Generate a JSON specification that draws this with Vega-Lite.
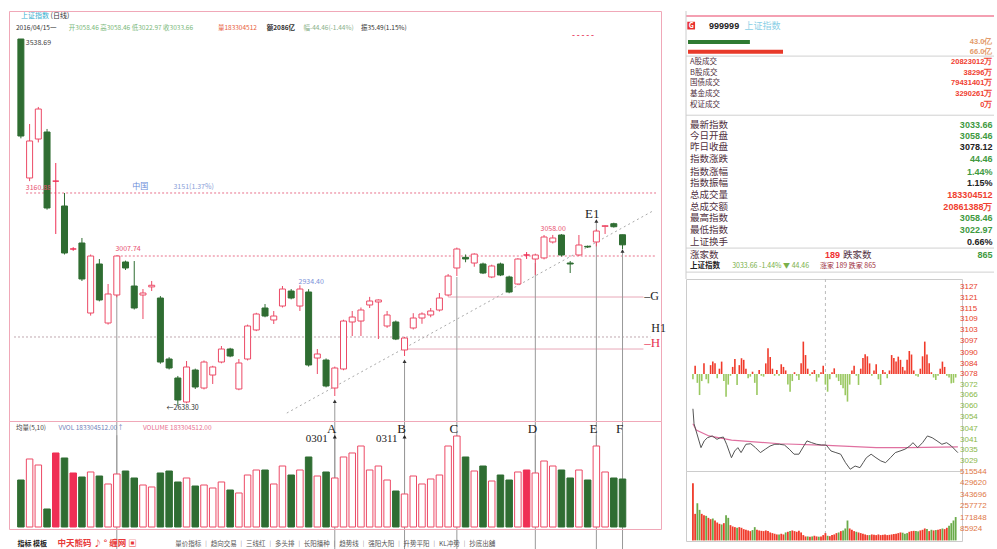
{
"$schema":"https://vega.github.io/schema/vega-lite/v6.json",
"background":"#ffffff",
"padding":{"left":8,"top":10,"right":0,"bottom":0},
"config":{"font":"Noto Sans CJK SC","view":{"stroke":null},"text":{"baseline":"middle"}},
"datasets":{
"k":[
{"i":1,"o":3538.69,"h":3538.69,"l":3295,"c":3300.7,"vol":179.5},
{"i":2,"o":3197.7,"h":3330.2,"l":3190,"c":3288.5,"vol":259.8},
{"i":3,"o":3293.3,"h":3372,"l":3285,"c":3366.9,"vol":236.8},
{"i":4,"o":3310.5,"h":3318,"l":3120,"c":3124.1,"vol":68.8},
{"i":5,"o":3190,"h":3234.5,"l":3060.3,"c":3190,"vol":282.7},
{"i":6,"o":3129.0,"h":3160.9,"l":3010,"c":3013.7,"vol":263.6},
{"i":7,"o":3023.5,"h":3028,"l":3019,"c":3023.5,"vol":206.3},
{"i":8,"o":3038.2,"h":3050.5,"l":2945,"c":2949.9,"vol":191.0},
{"i":9,"o":2866.4,"h":3010,"l":2860,"c":3006.3,"vol":210.1},
{"i":10,"o":2986.7,"h":2998.9,"l":2895,"c":2898.4,"vol":194.8},
{"i":11,"o":2841.9,"h":2937.6,"l":2838,"c":2913.1,"vol":164.3},
{"i":12,"o":2910.6,"h":3007.74,"l":2905,"c":3006.3,"vol":202.5},
{"i":13,"o":2991.6,"h":2995,"l":2972,"c":2976.9,"vol":213.9},
{"i":14,"o":2932.7,"h":2994.0,"l":2875,"c":2878.7,"vol":187.2},
{"i":15,"o":2910.6,"h":2925.3,"l":2851.7,"c":2915.5,"vol":160.4},
{"i":16,"o":2930.5,"h":2945.0,"l":2920.4,"c":2934.5,"vol":152.8},
{"i":17,"o":2903.2,"h":2908,"l":2742,"c":2746.2,"vol":206.3},
{"i":18,"o":2753.6,"h":2758,"l":2728,"c":2731.5,"vol":213.9},
{"i":19,"o":2707.0,"h":2712,"l":2638.3,"c":2653.0,"vol":171.9},
{"i":20,"o":2648.1,"h":2748.7,"l":2645,"c":2734.0,"vol":187.2},
{"i":21,"o":2726.6,"h":2730,"l":2680,"c":2684.9,"vol":156.6},
{"i":22,"o":2682.4,"h":2750,"l":2679,"c":2746.2,"vol":160.4},
{"i":23,"o":2714.3,"h":2737,"l":2692.3,"c":2734.0,"vol":149.0},
{"i":24,"o":2746.2,"h":2785.5,"l":2743,"c":2778.1,"vol":171.9},
{"i":25,"o":2778.1,"h":2781,"l":2758,"c":2760.9,"vol":141.3},
{"i":26,"o":2680.0,"h":2753.6,"l":2677,"c":2743.8,"vol":129.9},
{"i":27,"o":2753.6,"h":2838,"l":2750,"c":2834.6,"vol":198.6},
{"i":28,"o":2824.8,"h":2867,"l":2822,"c":2864.0,"vol":217.7},
{"i":29,"o":2878.7,"h":2888.5,"l":2856,"c":2859.1,"vol":217.7},
{"i":30,"o":2849.3,"h":2871.4,"l":2839.5,"c":2859.1,"vol":164.3},
{"i":31,"o":2883.6,"h":2932.7,"l":2880,"c":2925.3,"vol":233.0},
{"i":32,"o":2920.4,"h":2925.3,"l":2900,"c":2903.2,"vol":198.6},
{"i":33,"o":2883.6,"h":2934.4,"l":2871.4,"c":2925.3,"vol":217.7},
{"i":34,"o":2918.0,"h":2925,"l":2735,"c":2738.9,"vol":267.4},
{"i":35,"o":2756.0,"h":2778.1,"l":2716.8,"c":2765.9,"vol":194.8},
{"i":36,"o":2751.1,"h":2755,"l":2684,"c":2687.4,"vol":210.1},
{"i":37,"o":2682.4,"h":2735,"l":2662.8,"c":2731.5,"vol":187.2},
{"i":38,"o":2729.1,"h":2850,"l":2726,"c":2846.8,"vol":267.4},
{"i":39,"o":2844.4,"h":2871.4,"l":2810,"c":2856.6,"vol":282.7},
{"i":40,"o":2846.8,"h":2880,"l":2810,"c":2873.8,"vol":309.4},
{"i":41,"o":2886.1,"h":2906,"l":2878.7,"c":2895.9,"vol":217.7},
{"i":42,"o":2893.5,"h":2900,"l":2802.6,"c":2898.4,"vol":233.0},
{"i":43,"o":2834.6,"h":2871.4,"l":2830,"c":2861.6,"vol":179.5},
{"i":44,"o":2844.4,"h":2848,"l":2800,"c":2802.6,"vol":137.5},
{"i":45,"o":2775.7,"h":2808,"l":2760.9,"c":2805.1,"vol":126.1},
{"i":46,"o":2829.7,"h":2866,"l":2826,"c":2854.2,"vol":194.8},
{"i":47,"o":2854.2,"h":2868,"l":2840,"c":2864.0,"vol":164.3},
{"i":48,"o":2861.6,"h":2878.7,"l":2856,"c":2871.4,"vol":183.4},
{"i":49,"o":2873.8,"h":2915.5,"l":2870,"c":2903.2,"vol":198.6},
{"i":50,"o":2910.6,"h":2962,"l":2907,"c":2957.2,"vol":309.4},
{"i":51,"o":2976.9,"h":3027,"l":2957.2,"c":3023.5,"vol":347.6},
{"i":52,"o":3003,"h":3010,"l":2991,"c":2999,"vol":267.4},
{"i":53,"o":2989.1,"h":3013,"l":2980,"c":3011,"vol":213.9},
{"i":54,"o":2986.7,"h":2990,"l":2962,"c":2964.6,"vol":233.0},
{"i":55,"o":2954.8,"h":2985,"l":2952,"c":2981.8,"vol":175.7},
{"i":56,"o":2986.7,"h":2990,"l":2957,"c":2959.7,"vol":198.6},
{"i":57,"o":2954.8,"h":2958,"l":2915,"c":2918.0,"vol":179.5},
{"i":58,"o":2937.6,"h":3001,"l":2935,"c":2998.9,"vol":210.1},
{"i":59,"o":3008.8,"h":3016,"l":2999,"c":3008.8,"vol":217.7},
{"i":60,"o":2998.9,"h":3012,"l":2960,"c":3008.8,"vol":206.3},
{"i":61,"o":3001.5,"h":3057.8,"l":2998,"c":3052.9,"vol":252.1},
{"i":62,"o":3040.7,"h":3058.0,"l":3037,"c":3050.5,"vol":233.0},
{"i":63,"o":3057.8,"h":3060,"l":3005,"c":3008.8,"vol":217.7},
{"i":64,"o":2989.1,"h":2994.0,"l":2964.6,"c":2986.7,"vol":187.2},
{"i":65,"o":3008.8,"h":3057.8,"l":3006,"c":3033.3,"vol":217.7},
{"i":66,"o":3030.0,"h":3032,"l":3026,"c":3028.4,"vol":179.5},
{"i":67,"o":3040.7,"h":3072,"l":3030,"c":3067.6,"vol":309.4},
{"i":68,"o":3079.0,"h":3082,"l":3060.3,"c":3080.5,"vol":210.1},
{"i":69,"o":3085.5,"h":3088,"l":3076,"c":3078.12,"vol":187.2},
{"i":70,"o":3058.46,"h":3058.46,"l":3022.97,"c":3033.66,"vol":183.3}
],
"mk":[
{"n":"","i":12,"p":3006.3,"dt":""},
{"n":"A","i":37,"p":2650,"dt":"0301"},
{"n":"B","i":45,"p":2748,"dt":"0311"},
{"n":"C","i":51,"p":2955,"dt":""},
{"n":"D","i":60,"p":2989,"dt":""},
{"n":"E","i":67,"p":3092,"dt":""},
{"n":"F","i":70,"p":3018.6,"dt":""}
],
"is":[
{"m":0,"s":3075.12,"b":3078.12},{"m":2,"s":3082.82,"b":3078.12},{"m":4,"s":3073.12,"b":3078.12},{"m":6,"s":3066.22,"b":3078.12},{"m":8,"s":3074.12,"b":3078.12},{"m":10,"s":3084.12,"b":3078.12},{"m":12,"s":3075.12,"b":3078.12},{"m":14,"s":3072.82,"b":3078.12},{"m":16,"s":3083.12,"b":3078.12},{"m":18,"s":3085.12,"b":3078.12},
{"m":20,"s":3084.12,"b":3078.12},{"m":22,"s":3075.72,"b":3078.12},{"m":24,"s":3081.12,"b":3078.12},{"m":26,"s":3085.12,"b":3078.12},{"m":28,"s":3074.12,"b":3078.12},{"m":30,"s":3065.32,"b":3078.12},{"m":32,"s":3072.12,"b":3078.12},{"m":34,"s":3077.12,"b":3078.12},{"m":36,"s":3082.12,"b":3078.12},{"m":38,"s":3086.62,"b":3078.12},
{"m":40,"s":3071.92,"b":3078.12},{"m":42,"s":3083.12,"b":3078.12},{"m":44,"s":3087.02,"b":3078.12},{"m":46,"s":3086.12,"b":3078.12},{"m":48,"s":3081.12,"b":3078.12},{"m":50,"s":3075.72,"b":3078.12},{"m":52,"s":3076.62,"b":3078.12},{"m":54,"s":3079.42,"b":3078.12},{"m":56,"s":3073.12,"b":3078.12},{"m":58,"s":3066.22,"b":3078.12},
{"m":60,"s":3080.42,"b":3078.12},{"m":62,"s":3077.12,"b":3078.12},{"m":64,"s":3076.62,"b":3078.12},{"m":66,"s":3084.12,"b":3078.12},{"m":68,"s":3092.62,"b":3078.12},{"m":70,"s":3087.72,"b":3078.12},{"m":72,"s":3081.12,"b":3078.12},{"m":74,"s":3077.12,"b":3078.12},{"m":76,"s":3080.42,"b":3078.12},{"m":78,"s":3077.12,"b":3078.12},
{"m":80,"s":3083.62,"b":3078.12},{"m":82,"s":3082.12,"b":3078.12},{"m":84,"s":3080.12,"b":3078.12},{"m":86,"s":3072.12,"b":3078.12},{"m":88,"s":3068.12,"b":3078.12},{"m":90,"s":3074.12,"b":3078.12},{"m":92,"s":3079.12,"b":3078.12},{"m":94,"s":3077.12,"b":3078.12},{"m":96,"s":3074.72,"b":3078.12},{"m":98,"s":3084.12,"b":3078.12},
{"m":100,"s":3096.42,"b":3078.12},{"m":102,"s":3088.82,"b":3078.12},{"m":104,"s":3081.12,"b":3078.12},{"m":106,"s":3077.12,"b":3078.12},{"m":108,"s":3079.12,"b":3078.12},{"m":110,"s":3080.42,"b":3078.12},{"m":112,"s":3073.82,"b":3078.12},{"m":114,"s":3076.12,"b":3078.12},{"m":116,"s":3079.12,"b":3078.12},{"m":118,"s":3082.82,"b":3078.12},
{"m":120,"s":3072.12,"b":3078.12},{"m":122,"s":3068.12,"b":3078.12},{"m":124,"s":3075.12,"b":3078.12},{"m":126,"s":3079.12,"b":3078.12},{"m":128,"s":3081.32,"b":3078.12},{"m":130,"s":3076.12,"b":3078.12},{"m":132,"s":3074.12,"b":3078.12},{"m":134,"s":3071.92,"b":3078.12},{"m":136,"s":3070.12,"b":3078.12},{"m":138,"s":3066.12,"b":3078.12},
{"m":140,"s":3062.52,"b":3078.12},{"m":142,"s":3072.12,"b":3078.12},{"m":144,"s":3080.12,"b":3078.12},{"m":146,"s":3082.82,"b":3078.12},{"m":148,"s":3077.12,"b":3078.12},{"m":150,"s":3071.92,"b":3078.12},{"m":152,"s":3081.12,"b":3078.12},{"m":154,"s":3087.12,"b":3078.12},{"m":156,"s":3089.22,"b":3078.12},{"m":158,"s":3088.12,"b":3078.12},
{"m":160,"s":3084.12,"b":3078.12},{"m":162,"s":3077.12,"b":3078.12},{"m":164,"s":3080.12,"b":3078.12},{"m":166,"s":3083.62,"b":3078.12},{"m":168,"s":3075.12,"b":3078.12},{"m":170,"s":3071.92,"b":3078.12},{"m":172,"s":3080.42,"b":3078.12},{"m":174,"s":3079.12,"b":3078.12},{"m":176,"s":3075.72,"b":3078.12},{"m":178,"s":3080.12,"b":3078.12},
{"m":180,"s":3088.82,"b":3078.12},{"m":182,"s":3087.12,"b":3078.12},{"m":184,"s":3085.12,"b":3078.12},{"m":186,"s":3087.92,"b":3078.12},{"m":188,"s":3086.12,"b":3078.12},{"m":190,"s":3082.12,"b":3078.12},{"m":192,"s":3080.12,"b":3078.12},{"m":194,"s":3086.12,"b":3078.12},{"m":196,"s":3091.12,"b":3078.12},{"m":198,"s":3089.12,"b":3078.12},
{"m":200,"s":3080.12,"b":3078.12},{"m":202,"s":3077.12,"b":3078.12},{"m":204,"s":3076.62,"b":3078.12},{"m":206,"s":3081.12,"b":3078.12},{"m":208,"s":3088.12,"b":3078.12},{"m":210,"s":3096.42,"b":3078.12},{"m":212,"s":3089.12,"b":3078.12},{"m":214,"s":3084.12,"b":3078.12},{"m":216,"s":3079.12,"b":3078.12},{"m":218,"s":3076.12,"b":3078.12},
{"m":220,"s":3074.72,"b":3078.12},{"m":222,"s":3077.12,"b":3078.12},{"m":224,"s":3081.12,"b":3078.12},{"m":226,"s":3085.12,"b":3078.12},{"m":228,"s":3082.12,"b":3078.12},{"m":230,"s":3077.12,"b":3078.12},{"m":232,"s":3076.12,"b":3078.12},{"m":234,"s":3072.82,"b":3078.12},{"m":236,"s":3073.12,"b":3078.12},{"m":238,"s":3076.12,"b":3078.12}
],
"iv":[
{"m":0,"v":430000,"dir":"u"},{"m":2,"v":200000,"dir":"u"},{"m":4,"v":280000,"dir":"d"},{"m":6,"v":230000,"dir":"d"},{"m":8,"v":200000,"dir":"u"},{"m":10,"v":190000,"dir":"u"},{"m":12,"v":185000,"dir":"d"},{"m":14,"v":170000,"dir":"u"},{"m":16,"v":160000,"dir":"u"},{"m":18,"v":165000,"dir":"d"},
{"m":20,"v":150000,"dir":"u"},{"m":22,"v":135000,"dir":"u"},{"m":24,"v":125000,"dir":"u"},{"m":26,"v":120000,"dir":"d"},{"m":28,"v":130000,"dir":"u"},{"m":30,"v":190000,"dir":"d"},{"m":32,"v":170000,"dir":"d"},{"m":34,"v":115000,"dir":"u"},{"m":36,"v":105000,"dir":"u"},{"m":38,"v":100000,"dir":"u"},
{"m":40,"v":95000,"dir":"d"},{"m":42,"v":100000,"dir":"u"},{"m":44,"v":95000,"dir":"u"},{"m":46,"v":85000,"dir":"u"},{"m":48,"v":80000,"dir":"u"},{"m":50,"v":75000,"dir":"u"},{"m":52,"v":70000,"dir":"u"},{"m":54,"v":78000,"dir":"d"},{"m":56,"v":100000,"dir":"d"},{"m":58,"v":80000,"dir":"u"},
{"m":60,"v":75000,"dir":"u"},{"m":62,"v":72000,"dir":"u"},{"m":64,"v":70000,"dir":"u"},{"m":66,"v":75000,"dir":"u"},{"m":68,"v":70000,"dir":"u"},{"m":70,"v":60000,"dir":"u"},{"m":72,"v":55000,"dir":"u"},{"m":74,"v":50000,"dir":"u"},{"m":76,"v":45000,"dir":"u"},{"m":78,"v":45000,"dir":"d"},
{"m":80,"v":50000,"dir":"u"},{"m":82,"v":45000,"dir":"u"},{"m":84,"v":60000,"dir":"d"},{"m":86,"v":65000,"dir":"u"},{"m":88,"v":70000,"dir":"d"},{"m":90,"v":75000,"dir":"u"},{"m":92,"v":70000,"dir":"u"},{"m":94,"v":65000,"dir":"u"},{"m":96,"v":72000,"dir":"u"},{"m":98,"v":60000,"dir":"u"},
{"m":100,"v":40000,"dir":"u"},{"m":102,"v":30000,"dir":"u"},{"m":104,"v":30000,"dir":"d"},{"m":106,"v":28000,"dir":"u"},{"m":108,"v":30000,"dir":"d"},{"m":110,"v":35000,"dir":"u"},{"m":112,"v":30000,"dir":"u"},{"m":114,"v":28000,"dir":"d"},{"m":116,"v":30000,"dir":"u"},{"m":118,"v":40000,"dir":"u"},
{"m":120,"v":55000,"dir":"u"},{"m":122,"v":35000,"dir":"d"},{"m":124,"v":32000,"dir":"u"},{"m":126,"v":40000,"dir":"u"},{"m":128,"v":45000,"dir":"u"},{"m":130,"v":55000,"dir":"u"},{"m":132,"v":60000,"dir":"d"},{"m":134,"v":70000,"dir":"u"},{"m":136,"v":75000,"dir":"d"},{"m":138,"v":90000,"dir":"d"},
{"m":140,"v":150000,"dir":"d"},{"m":142,"v":90000,"dir":"u"},{"m":144,"v":80000,"dir":"u"},{"m":146,"v":70000,"dir":"u"},{"m":148,"v":65000,"dir":"d"},{"m":150,"v":60000,"dir":"u"},{"m":152,"v":55000,"dir":"u"},{"m":154,"v":50000,"dir":"u"},{"m":156,"v":45000,"dir":"u"},{"m":158,"v":40000,"dir":"u"},
{"m":160,"v":40000,"dir":"d"},{"m":162,"v":45000,"dir":"u"},{"m":164,"v":42000,"dir":"u"},{"m":166,"v":40000,"dir":"u"},{"m":168,"v":45000,"dir":"u"},{"m":170,"v":40000,"dir":"u"},{"m":172,"v":42000,"dir":"u"},{"m":174,"v":45000,"dir":"u"},{"m":176,"v":40000,"dir":"u"},{"m":178,"v":42000,"dir":"u"},
{"m":180,"v":45000,"dir":"u"},{"m":182,"v":48000,"dir":"u"},{"m":184,"v":50000,"dir":"u"},{"m":186,"v":55000,"dir":"u"},{"m":188,"v":60000,"dir":"u"},{"m":190,"v":58000,"dir":"d"},{"m":192,"v":50000,"dir":"d"},{"m":194,"v":55000,"dir":"d"},{"m":196,"v":65000,"dir":"u"},{"m":198,"v":70000,"dir":"u"},
{"m":200,"v":72000,"dir":"u"},{"m":202,"v":70000,"dir":"d"},{"m":204,"v":68000,"dir":"d"},{"m":206,"v":75000,"dir":"u"},{"m":208,"v":80000,"dir":"u"},{"m":210,"v":90000,"dir":"u"},{"m":212,"v":85000,"dir":"d"},{"m":214,"v":70000,"dir":"u"},{"m":216,"v":80000,"dir":"d"},{"m":218,"v":75000,"dir":"u"},
{"m":220,"v":78000,"dir":"d"},{"m":222,"v":80000,"dir":"u"},{"m":224,"v":85000,"dir":"u"},{"m":226,"v":90000,"dir":"d"},{"m":228,"v":85000,"dir":"u"},{"m":230,"v":95000,"dir":"u"},{"m":232,"v":110000,"dir":"d"},{"m":234,"v":130000,"dir":"d"},{"m":236,"v":150000,"dir":"d"},{"m":238,"v":176000,"dir":"d"}
],
"it":[
{"m":0,"p":3058.46},{"m":1,"p":3050},{"m":2.9,"p":3045.9},{"m":7.3,"p":3036.5},{"m":10.2,"p":3040.3},{"m":13.1,"p":3042.1},{"m":17.5,"p":3043.1},{"m":21.8,"p":3041.2},{"m":24.7,"p":3042.1},{"m":27.6,"p":3042.5},
{"m":30.5,"p":3038.4},{"m":34.9,"p":3030.8},{"m":37.8,"p":3034.6},{"m":40.7,"p":3036.5},{"m":43.6,"p":3033.7},{"m":48,"p":3038.4},{"m":52.4,"p":3038.7},{"m":56.7,"p":3036.5},{"m":61.1,"p":3033.7},{"m":65.5,"p":3035.6},
{"m":69.8,"p":3037.4},{"m":74.2,"p":3038.4},{"m":78.5,"p":3038.4},{"m":82.9,"p":3038.0},{"m":87.3,"p":3035.6},{"m":91.6,"p":3032.8},{"m":96,"p":3032.8},{"m":100.4,"p":3037.4},{"m":103.3,"p":3040.3},{"m":107.6,"p":3039.3},
{"m":112,"p":3038.4},{"m":116.4,"p":3038.0},{"m":120.7,"p":3038.0},{"m":125.1,"p":3034.6},{"m":129.5,"p":3033.7},{"m":133.8,"p":3032.8},{"m":138.2,"p":3028.0},{"m":142.5,"p":3024.3},{"m":146.9,"p":3026.1},{"m":151.3,"p":3025.2},
{"m":154.2,"p":3028.0},{"m":157.1,"p":3030.8},{"m":161.4,"p":3032.8},{"m":165.8,"p":3030.8},{"m":170.2,"p":3029.0},{"m":174.5,"p":3028.0},{"m":178.9,"p":3030.8},{"m":183.3,"p":3033.7},{"m":187.6,"p":3034.6},{"m":192,"p":3035.6},
{"m":196.4,"p":3037.4},{"m":199.3,"p":3039.3},{"m":203.6,"p":3036.5},{"m":208,"p":3039.3},{"m":212.4,"p":3043.1},{"m":216.7,"p":3042.1},{"m":221.1,"p":3040.3},{"m":225.5,"p":3038.4},{"m":229.8,"p":3039.3},{"m":234.2,"p":3037.4},
{"m":238.5,"p":3034.6},{"m":240,"p":3033.66}
],
"ia":[
{"m":0,"p":3050},{"m":3,"p":3046.5},{"m":14.5,"p":3043.1},{"m":35,"p":3040.7},{"m":78.5,"p":3038.7},{"m":122,"p":3037.8},{"m":166,"p":3036.5},{"m":195,"p":3036.5},{"m":240,"p":3036.9}
],
"tb":[
{"k":"","v":"43.0亿","r":2.22,"kind":"bar"},
{"k":"","v":"66.0亿","r":3.04,"kind":"bar"},
{"k":"A股成交","v":"20823012万","r":3.94,"kind":"amount"},
{"k":"B股成交","v":"38296万","r":4.84,"kind":"amount"},
{"k":"国债成交","v":"79431401万","r":5.75,"kind":"amount"},
{"k":"基金成交","v":"3290261万","r":6.65,"kind":"amount"},
{"k":"权证成交","v":"0万","r":7.55,"kind":"amount"},
{"k":"最新指数","v":"3033.66","r":9.28,"kind":"index"},
{"k":"今日开盘","v":"3058.46","r":10.26,"kind":"index"},
{"k":"昨日收盘","v":"3078.12","r":11.2,"kind":"plain"},
{"k":"指数涨跌","v":"44.46","r":12.23,"kind":"index"},
{"k":"指数涨幅","v":"1.44%","r":13.26,"kind":"index"},
{"k":"指数振幅","v":"1.15%","r":14.24,"kind":"plain"},
{"k":"总成交量","v":"183304512","r":15.27,"kind":"amount"},
{"k":"总成交额","v":"20861388万","r":16.26,"kind":"amount"},
{"k":"最高指数","v":"3058.46","r":17.24,"kind":"index"},
{"k":"最低指数","v":"3022.97","r":18.23,"kind":"index"},
{"k":"上证换手","v":"0.66%","r":19.25,"kind":"plain"},
{"k":"涨家数","v":"865","r":20.36,"kind":"index"}
]
},
"spacing":18,
"hconcat":[
{"spacing":0,"bounds":"flush","vconcat":[
{"width":652,"height":410,"view":{"stroke":"#f0a8b8"},
"layer":[
{"data":{"values":[{"i1":1.6,"i2":73.84,"p":3160.9},{"i1":12,"i2":73.84,"p":3006.3}]},
 "mark":{"type":"rule","color":"#e8708a","strokeDash":[2,2],"strokeWidth":1},
 "encoding":{"x":{"field":"i1","type":"quantitative","scale":{"domain":[0.21,73.84],"nice":false,"zero":false},"axis":null},"x2":{"field":"i2"},
  "y":{"field":"p","type":"quantitative","scale":{"domain":[2601.5,3607.4],"nice":false,"zero":false},"axis":null}}},
{"data":{"values":[{"i1":0.21,"i2":73.2,"p":2807.6}]},
 "mark":{"type":"rule","color":"#c0a8b0","strokeDash":[2,2],"strokeWidth":1},
 "encoding":{"x":{"field":"i1","type":"quantitative","scale":{"domain":[0.21,73.84],"nice":false,"zero":false},"axis":null},"x2":{"field":"i2"},
  "y":{"field":"p","type":"quantitative","scale":{"domain":[2601.5,3607.4],"nice":false,"zero":false},"axis":null}}},
{"data":{"values":[{"i1":50,"i2":72.4,"p":2905.7},{"i1":45,"i2":72.4,"p":2778.1}]},
 "mark":{"type":"rule","color":"#e8a8b8","strokeWidth":1},
 "encoding":{"x":{"field":"i1","type":"quantitative","scale":{"domain":[0.21,73.84],"nice":false,"zero":false},"axis":null},"x2":{"field":"i2"},
  "y":{"field":"p","type":"quantitative","scale":{"domain":[2601.5,3607.4],"nice":false,"zero":false},"axis":null}}},
{"data":{"values":[{"i1":31.5,"p1":2621,"i2":73.5,"p2":3117}]},
 "mark":{"type":"rule","color":"#aaaaaa","strokeDash":[2,3],"strokeWidth":1},
 "encoding":{"x":{"field":"i1","type":"quantitative","scale":{"domain":[0.21,73.84],"nice":false,"zero":false},"axis":null},"x2":{"field":"i2"},
  "y":{"field":"p1","type":"quantitative","scale":{"domain":[2601.5,3607.4],"nice":false,"zero":false},"axis":null},"y2":{"field":"p2"}}},
{"data":{"name":"mk"},
 "mark":{"type":"bar","orient":"vertical","size":1,"color":"#999999"},
 "encoding":{"x":{"field":"i","type":"quantitative","scale":{"domain":[0.21,73.84],"nice":false,"zero":false},"axis":null},
  "y":{"field":"p","type":"quantitative","scale":{"domain":[2601.5,3607.4],"nice":false,"zero":false},"axis":null}}},
{"data":{"name":"k"},
 "mark":{"type":"rule","strokeWidth":1},
 "encoding":{"x":{"field":"i","type":"quantitative","scale":{"domain":[0.21,73.84],"nice":false,"zero":false},"axis":null},
  "y":{"field":"l","type":"quantitative","scale":{"domain":[2601.5,3607.4],"nice":false,"zero":false},"axis":null},"y2":{"field":"h"},
  "color":{"condition":[{"test":"datum.c<datum.o","value":"#2f6d32"},{"test":"datum.c==datum.o","value":"#ef2f55"}],"value":"#ec4a66"}}},
{"data":{"name":"k"},
 "mark":{"type":"bar","orient":"vertical","size":6,"strokeWidth":1},
 "encoding":{"x":{"field":"i","type":"quantitative","scale":{"domain":[0.21,73.84],"nice":false,"zero":false},"axis":null},
  "y":{"field":"o","type":"quantitative","scale":{"domain":[2601.5,3607.4],"nice":false,"zero":false},"axis":null},"y2":{"field":"c"},
  "fill":{"condition":[{"test":"datum.c<datum.o","value":"#2f6d32"},{"test":"datum.c==datum.o","value":"#ef2f55"}],"value":"#ffffff"},
  "stroke":{"condition":[{"test":"datum.c<datum.o","value":"#2f6d32"},{"test":"datum.c==datum.o","value":"#ef2f55"}],"value":"#ec4a66"}}},
{"data":{"name":"mk"},"transform":[{"filter":"datum.n=='A'||datum.n=='B'||datum.n=='E'||datum.n=='F'"}],
 "mark":{"type":"point","shape":"triangle-up","filled":true,"size":16,"color":"#333333","opacity":1},
 "encoding":{"x":{"field":"i","type":"quantitative","scale":{"domain":[0.21,73.84],"nice":false,"zero":false},"axis":null},
  "y":{"field":"p","type":"quantitative","scale":{"domain":[2601.5,3607.4],"nice":false,"zero":false},"axis":null}}},
{"data":{"values":[{}]},"mark":{"type":"text","text":"上证指数","align":"left","fontSize":7,"color":"#3ab0d0"},
 "encoding":{"x":{"datum":1.0,"type":"quantitative","scale":{"domain":[0.21,73.84],"nice":false,"zero":false},"axis":null},"y":{"datum":3595,"type":"quantitative","scale":{"domain":[2601.5,3607.4],"nice":false,"zero":false},"axis":null}}},
{"data":{"values":[{}]},"mark":{"type":"text","text":"(日线)","align":"left","fontSize":7,"color":"#333333"},
 "encoding":{"x":{"datum":4.4,"type":"quantitative","scale":{"domain":[0.21,73.84],"nice":false,"zero":false},"axis":null},"y":{"datum":3595,"type":"quantitative","scale":{"domain":[2601.5,3607.4],"nice":false,"zero":false},"axis":null}}},
{"data":{"values":[{}]},"mark":{"type":"text","text":"2016/04/15一","align":"left","fontSize":6.5,"color":"#333333"},
 "encoding":{"x":{"datum":0.44,"type":"quantitative","scale":{"domain":[0.21,73.84],"nice":false,"zero":false},"axis":null},"y":{"datum":3565.7,"type":"quantitative","scale":{"domain":[2601.5,3607.4],"nice":false,"zero":false},"axis":null}}},
{"data":{"values":[{}]},"mark":{"type":"text","text":"开3058.46 高3058.46 低3022.97 收3033.66","align":"left","fontSize":6.5,"color":"#7ab87a"},
 "encoding":{"x":{"datum":6.5,"type":"quantitative","scale":{"domain":[0.21,73.84],"nice":false,"zero":false},"axis":null},"y":{"datum":3565.7,"type":"quantitative","scale":{"domain":[2601.5,3607.4],"nice":false,"zero":false},"axis":null}}},
{"data":{"values":[{}]},"mark":{"type":"text","text":"量183304512","align":"left","fontSize":6.5,"color":"#e86040"},
 "encoding":{"x":{"datum":23.6,"type":"quantitative","scale":{"domain":[0.21,73.84],"nice":false,"zero":false},"axis":null},"y":{"datum":3565.7,"type":"quantitative","scale":{"domain":[2601.5,3607.4],"nice":false,"zero":false},"axis":null}}},
{"data":{"values":[{}]},"mark":{"type":"text","text":"额2086亿","align":"left","fontSize":6.5,"fontWeight":"bold","color":"#333333"},
 "encoding":{"x":{"datum":29.2,"type":"quantitative","scale":{"domain":[0.21,73.84],"nice":false,"zero":false},"axis":null},"y":{"datum":3565.7,"type":"quantitative","scale":{"domain":[2601.5,3607.4],"nice":false,"zero":false},"axis":null}}},
{"data":{"values":[{}]},"mark":{"type":"text","text":"幅-44.46(-1.44%)","align":"left","fontSize":6.5,"color":"#8ab08a"},
 "encoding":{"x":{"datum":33.4,"type":"quantitative","scale":{"domain":[0.21,73.84],"nice":false,"zero":false},"axis":null},"y":{"datum":3565.7,"type":"quantitative","scale":{"domain":[2601.5,3607.4],"nice":false,"zero":false},"axis":null}}},
{"data":{"values":[{}]},"mark":{"type":"text","text":"振35.49(1.15%)","align":"left","fontSize":6.5,"color":"#333333"},
 "encoding":{"x":{"datum":40.0,"type":"quantitative","scale":{"domain":[0.21,73.84],"nice":false,"zero":false},"axis":null},"y":{"datum":3565.7,"type":"quantitative","scale":{"domain":[2601.5,3607.4],"nice":false,"zero":false},"axis":null}}},
{"data":{"values":[{}]},"mark":{"type":"text","text":"- - - - -","align":"left","fontSize":8,"fontWeight":"bold","color":"#e84060"},
 "encoding":{"x":{"datum":64.2,"type":"quantitative","scale":{"domain":[0.21,73.84],"nice":false,"zero":false},"axis":null},"y":{"datum":3546,"type":"quantitative","scale":{"domain":[2601.5,3607.4],"nice":false,"zero":false},"axis":null}}},
{"data":{"values":[{}]},"mark":{"type":"text","text":"3538.69","align":"left","fontSize":7,"color":"#444444"},
 "encoding":{"x":{"datum":1.56,"type":"quantitative","scale":{"domain":[0.21,73.84],"nice":false,"zero":false},"axis":null},"y":{"datum":3528.9,"type":"quantitative","scale":{"domain":[2601.5,3607.4],"nice":false,"zero":false},"axis":null}}},
{"data":{"values":[{}]},"mark":{"type":"text","text":"3160.88","align":"left","fontSize":7,"color":"#e85070"},
 "encoding":{"x":{"datum":1.56,"type":"quantitative","scale":{"domain":[0.21,73.84],"nice":false,"zero":false},"axis":null},"y":{"datum":3173,"type":"quantitative","scale":{"domain":[2601.5,3607.4],"nice":false,"zero":false},"axis":null}}},
{"data":{"values":[{}]},"mark":{"type":"text","text":"中国","align":"left","fontSize":8,"color":"#6a8ad8"},
 "encoding":{"x":{"datum":13.76,"type":"quantitative","scale":{"domain":[0.21,73.84],"nice":false,"zero":false},"axis":null},"y":{"datum":3175,"type":"quantitative","scale":{"domain":[2601.5,3607.4],"nice":false,"zero":false},"axis":null}}},
{"data":{"values":[{}]},"mark":{"type":"text","text":"3151(1.37%)","align":"left","fontSize":7,"color":"#8aa0d8"},
 "encoding":{"x":{"datum":18.5,"type":"quantitative","scale":{"domain":[0.21,73.84],"nice":false,"zero":false},"axis":null},"y":{"datum":3175,"type":"quantitative","scale":{"domain":[2601.5,3607.4],"nice":false,"zero":false},"axis":null}}},
{"data":{"values":[{}]},"mark":{"type":"text","text":"3007.74","align":"left","fontSize":7,"color":"#e85070"},
 "encoding":{"x":{"datum":11.84,"type":"quantitative","scale":{"domain":[0.21,73.84],"nice":false,"zero":false},"axis":null},"y":{"datum":3023.5,"type":"quantitative","scale":{"domain":[2601.5,3607.4],"nice":false,"zero":false},"axis":null}}},
{"data":{"values":[{}]},"mark":{"type":"text","text":"2934.40","align":"left","fontSize":7,"color":"#7a90d8"},
 "encoding":{"x":{"datum":32.85,"type":"quantitative","scale":{"domain":[0.21,73.84],"nice":false,"zero":false},"axis":null},"y":{"datum":2942.5,"type":"quantitative","scale":{"domain":[2601.5,3607.4],"nice":false,"zero":false},"axis":null}}},
{"data":{"values":[{}]},"mark":{"type":"text","text":"←2638.30","align":"left","fontSize":7,"color":"#333333"},
 "encoding":{"x":{"datum":17.7,"type":"quantitative","scale":{"domain":[0.21,73.84],"nice":false,"zero":false},"axis":null},"y":{"datum":2633.4,"type":"quantitative","scale":{"domain":[2601.5,3607.4],"nice":false,"zero":false},"axis":null}}},
{"data":{"values":[{}]},"mark":{"type":"text","text":"3058.00","align":"left","fontSize":7,"color":"#e85070"},
 "encoding":{"x":{"datum":60.6,"type":"quantitative","scale":{"domain":[0.21,73.84],"nice":false,"zero":false},"axis":null},"y":{"datum":3072.5,"type":"quantitative","scale":{"domain":[2601.5,3607.4],"nice":false,"zero":false},"axis":null}}},
{"data":{"values":[{}]},"mark":{"type":"text","text":"E1","align":"left","fontSize":13,"font":"Liberation Serif","color":"#222222"},
 "encoding":{"x":{"datum":65.7,"type":"quantitative","scale":{"domain":[0.21,73.84],"nice":false,"zero":false},"axis":null},"y":{"datum":3109.4,"type":"quantitative","scale":{"domain":[2601.5,3607.4],"nice":false,"zero":false},"axis":null}}},
{"data":{"values":[{}]},"mark":{"type":"text","text":"–G","align":"left","fontSize":12,"font":"Liberation Serif","color":"#222222"},
 "encoding":{"x":{"datum":72.5,"type":"quantitative","scale":{"domain":[0.21,73.84],"nice":false,"zero":false},"axis":null},"y":{"datum":2908,"type":"quantitative","scale":{"domain":[2601.5,3607.4],"nice":false,"zero":false},"axis":null}}},
{"data":{"values":[{}]},"mark":{"type":"text","text":"H1","align":"left","fontSize":12,"font":"Liberation Serif","color":"#222222"},
 "encoding":{"x":{"datum":73.3,"type":"quantitative","scale":{"domain":[0.21,73.84],"nice":false,"zero":false},"axis":null},"y":{"datum":2829.6,"type":"quantitative","scale":{"domain":[2601.5,3607.4],"nice":false,"zero":false},"axis":null}}},
{"data":{"values":[{}]},"mark":{"type":"text","text":"–H","align":"left","fontSize":13,"font":"Liberation Serif","color":"#e83050"},
 "encoding":{"x":{"datum":72.5,"type":"quantitative","scale":{"domain":[0.21,73.84],"nice":false,"zero":false},"axis":null},"y":{"datum":2792.9,"type":"quantitative","scale":{"domain":[2601.5,3607.4],"nice":false,"zero":false},"axis":null}}}
]},
{"width":652,"height":108,"view":{"stroke":"#f0a8b8"},
"layer":[
{"data":{"name":"mk"},
 "mark":{"type":"bar","orient":"vertical","size":1,"color":"#999999"},
 "encoding":{"x":{"field":"i","type":"quantitative","scale":{"domain":[0.21,73.84],"nice":false,"zero":false},"axis":null},
  "y":{"datum":350,"type":"quantitative","scale":{"domain":[-7.64,404.9],"nice":false,"zero":false},"axis":null}}},
{"data":{"name":"k"},
 "mark":{"type":"bar","orient":"vertical","size":6.5,"strokeWidth":1},
 "encoding":{"x":{"field":"i","type":"quantitative","scale":{"domain":[0.21,73.84],"nice":false,"zero":false},"axis":null},
  "y":{"field":"vol","type":"quantitative","scale":{"domain":[-7.64,404.9],"nice":false,"zero":false},"axis":null},
  "fill":{"condition":[{"test":"datum.c<datum.o","value":"#2f6d32"},{"test":"datum.c==datum.o","value":"#ef2f55"}],"value":"#ffffff"},
  "stroke":{"condition":[{"test":"datum.c<datum.o","value":"#2f6d32"},{"test":"datum.c==datum.o","value":"#ef2f55"}],"value":"#ec4a66"}}},
{"data":{"name":"mk"},"transform":[{"filter":"datum.n!=''"}],
 "mark":{"type":"text","fontSize":13,"font":"Liberation Serif","color":"#222222","dx":-3},
 "encoding":{"x":{"field":"i","type":"quantitative","scale":{"domain":[0.21,73.84],"nice":false,"zero":false},"axis":null},
  "y":{"datum":374.4,"type":"quantitative","scale":{"domain":[-7.64,404.9],"nice":false,"zero":false},"axis":null},"text":{"field":"n"}}},
{"data":{"name":"mk"},"transform":[{"filter":"datum.dt!=''"}],
 "mark":{"type":"text","fontSize":11,"font":"Liberation Serif","color":"#222222","align":"right","dx":-7},
 "encoding":{"x":{"field":"i","type":"quantitative","scale":{"domain":[0.21,73.84],"nice":false,"zero":false},"axis":null},
  "y":{"datum":336,"type":"quantitative","scale":{"domain":[-7.64,404.9],"nice":false,"zero":false},"axis":null},"text":{"field":"dt"}}},
{"data":{"name":"mk"},"transform":[{"filter":"datum.dt!=''"}],
 "mark":{"type":"point","shape":"triangle-up","filled":true,"size":16,"color":"#222222","opacity":1},
 "encoding":{"x":{"field":"i","type":"quantitative","scale":{"domain":[0.21,73.84],"nice":false,"zero":false},"axis":null},
  "y":{"datum":345,"type":"quantitative","scale":{"domain":[-7.64,404.9],"nice":false,"zero":false},"axis":null}}},
{"data":{"values":[{}]},"mark":{"type":"text","text":"均量(5,10)","align":"left","fontSize":6.5,"color":"#444444"},
 "encoding":{"x":{"datum":0.44,"type":"quantitative","scale":{"domain":[0.21,73.84],"nice":false,"zero":false},"axis":null},"y":{"datum":378,"type":"quantitative","scale":{"domain":[-7.64,404.9],"nice":false,"zero":false},"axis":null}}},
{"data":{"values":[{}]},"mark":{"type":"text","text":"VVOL 183304512.00↑","align":"left","fontSize":6.5,"color":"#7080b8"},
 "encoding":{"x":{"datum":5.3,"type":"quantitative","scale":{"domain":[0.21,73.84],"nice":false,"zero":false},"axis":null},"y":{"datum":378,"type":"quantitative","scale":{"domain":[-7.64,404.9],"nice":false,"zero":false},"axis":null}}},
{"data":{"values":[{}]},"mark":{"type":"text","text":"VOLUME 183304512.00","align":"left","fontSize":6.5,"color":"#e87090"},
 "encoding":{"x":{"datum":15.0,"type":"quantitative","scale":{"domain":[0.21,73.84],"nice":false,"zero":false},"axis":null},"y":{"datum":378,"type":"quantitative","scale":{"domain":[-7.64,404.9],"nice":false,"zero":false},"axis":null}}},
{"data":{"values":[{}]},"mark":{"type":"text","text":"指标  模板","align":"left","fontSize":7,"fontWeight":"bold","color":"#222222"},
 "encoding":{"x":{"datum":0.6,"type":"quantitative","scale":{"domain":[0.21,73.84],"nice":false,"zero":false},"axis":null},"y":{"datum":-64.9,"type":"quantitative","scale":{"domain":[-7.64,404.9],"nice":false,"zero":false},"axis":null}}},
{"data":{"values":[{}]},"mark":{"type":"text","text":"中天熊码 ♪ ° 缠网 ▣","align":"left","fontSize":8.5,"fontWeight":"bold","color":"#e83a3a"},
 "encoding":{"x":{"datum":5.2,"type":"quantitative","scale":{"domain":[0.21,73.84],"nice":false,"zero":false},"axis":null},"y":{"datum":-63,"type":"quantitative","scale":{"domain":[-7.64,404.9],"nice":false,"zero":false},"axis":null}}},
{"data":{"values":[{}]},"mark":{"type":"text","text":"量价指标 │ 趋向交易 │ 三线红 │ 多头排 │ 长阳播种 │ 趋势线 │ 强阳大阳 │ 升势平阳 │ KL冲势 │ 抄底出舖","align":"left","fontSize":6.5,"color":"#555555"},
 "encoding":{"x":{"datum":18.7,"type":"quantitative","scale":{"domain":[0.21,73.84],"nice":false,"zero":false},"axis":null},"y":{"datum":-64.9,"type":"quantitative","scale":{"domain":[-7.64,404.9],"nice":false,"zero":false},"axis":null}}}
]}
]},
{"spacing":0,"bounds":"flush","vconcat":[
{"width":308,"height":268,
"layer":[
{"data":{"values":[{}]},"mark":{"type":"rule","color":"#f08098","strokeWidth":1.5},
 "encoding":{"y":{"datum":0,"type":"quantitative","scale":{"domain":[0,22],"reverse":true,"nice":false,"zero":false},"axis":null}}},
{"data":{"values":[{"r":3.42},{"r":8.46},{"r":19.79},{"r":21.84}]},"mark":{"type":"rule","color":"#d0d0d0","strokeWidth":1},
 "encoding":{"y":{"field":"r","type":"quantitative","scale":{"domain":[0,22],"reverse":true,"nice":false,"zero":false},"axis":null}}},
{"data":{"values":[{}]},"mark":{"type":"rule","color":"#cccccc","strokeWidth":1},
 "encoding":{"x":{"datum":-1.4,"type":"quantitative","scale":{"domain":[-1.4,212.6],"nice":false,"zero":false},"axis":null}}},
{"data":{"values":[{}]},"mark":{"type":"square","size":60,"color":"#e83030","filled":true,"opacity":1},
 "encoding":{"x":{"datum":2.2,"type":"quantitative","scale":{"domain":[-1.4,212.6],"nice":false,"zero":false},"axis":null},
  "y":{"datum":0.82,"type":"quantitative","scale":{"domain":[0,22],"reverse":true,"nice":false,"zero":false},"axis":null}}},
{"data":{"values":[{}]},"mark":{"type":"text","text":"G","fontSize":7,"fontWeight":"bold","color":"#ffffff"},
 "encoding":{"x":{"datum":2.2,"type":"quantitative","scale":{"domain":[-1.4,212.6],"nice":false,"zero":false},"axis":null},
  "y":{"datum":0.82,"type":"quantitative","scale":{"domain":[0,22],"reverse":true,"nice":false,"zero":false},"axis":null}}},
{"data":{"values":[{}]},"mark":{"type":"text","text":"999999","align":"left","fontSize":9,"fontWeight":"bold","font":"Liberation Sans","color":"#222222"},
 "encoding":{"x":{"datum":14.65,"type":"quantitative","scale":{"domain":[-1.4,212.6],"nice":false,"zero":false},"axis":null},
  "y":{"datum":0.82,"type":"quantitative","scale":{"domain":[0,22],"reverse":true,"nice":false,"zero":false},"axis":null}}},
{"data":{"values":[{}]},"mark":{"type":"text","text":"上证指数","align":"left","fontSize":9,"color":"#8acfe6"},
 "encoding":{"x":{"datum":39.26,"type":"quantitative","scale":{"domain":[-1.4,212.6],"nice":false,"zero":false},"axis":null},
  "y":{"datum":0.82,"type":"quantitative","scale":{"domain":[0,22],"reverse":true,"nice":false,"zero":false},"axis":null}}},
{"data":{"values":[{"r":2.22,"amt":43.0,"side":"down"},{"r":3.04,"amt":66.0,"side":"up"}]},
 "mark":{"type":"bar","orient":"horizontal","size":4},
 "encoding":{"x":{"field":"amt","type":"quantitative","scale":{"domain":[-1.4,212.6],"nice":false,"zero":false},"axis":null},
  "y":{"field":"r","type":"quantitative","scale":{"domain":[0,22],"reverse":true,"nice":false,"zero":false},"axis":null},
  "color":{"condition":{"test":"datum.side=='down'","value":"#2f7a32"},"value":"#e83a2a"}}},
{"data":{"name":"tb"},"mark":{"type":"text","align":"left","color":"#503040"},
 "encoding":{"x":{"datum":1.38,"type":"quantitative","scale":{"domain":[-1.4,212.6],"nice":false,"zero":false},"axis":null},
  "y":{"field":"r","type":"quantitative","scale":{"domain":[0,22],"reverse":true,"nice":false,"zero":false},"axis":null},"text":{"field":"k"},
  "size":{"condition":{"test":"datum.r<8","value":7.5},"value":9.5}}},
{"data":{"name":"tb"},"mark":{"type":"text","align":"right","fontWeight":"bold","font":"Liberation Sans"},
 "encoding":{"x":{"datum":211.5,"type":"quantitative","scale":{"domain":[-1.4,212.6],"nice":false,"zero":false},"axis":null},
  "y":{"field":"r","type":"quantitative","scale":{"domain":[0,22],"reverse":true,"nice":false,"zero":false},"axis":null},"text":{"field":"v"},
  "size":{"condition":{"test":"datum.r<8","value":7.5},"value":9},
  "color":{"condition":[{"test":"datum.kind=='amount'","value":"#f04030"},{"test":"datum.kind=='index'","value":"#3f9a3f"},{"test":"datum.kind=='bar'","value":"#e39a6a"}],"value":"#222222"}}},
{"data":{"values":[{}]},"mark":{"type":"text","text":"189","align":"right","fontSize":9,"fontWeight":"bold","font":"Liberation Sans","color":"#f03030"},
 "encoding":{"x":{"datum":105.6,"type":"quantitative","scale":{"domain":[-1.4,212.6],"nice":false,"zero":false},"axis":null},
  "y":{"datum":20.36,"type":"quantitative","scale":{"domain":[0,22],"reverse":true,"nice":false,"zero":false},"axis":null}}},
{"data":{"values":[{}]},"mark":{"type":"text","text":"跌家数","align":"left","fontSize":9.5,"color":"#503040"},
 "encoding":{"x":{"datum":107.74,"type":"quantitative","scale":{"domain":[-1.4,212.6],"nice":false,"zero":false},"axis":null},
  "y":{"datum":20.36,"type":"quantitative","scale":{"domain":[0,22],"reverse":true,"nice":false,"zero":false},"axis":null}}},
{"data":{"values":[{}]},"mark":{"type":"text","text":"上证指数","align":"left","fontSize":7.5,"fontWeight":"bold","color":"#222222"},
 "encoding":{"x":{"datum":1.38,"type":"quantitative","scale":{"domain":[-1.4,212.6],"nice":false,"zero":false},"axis":null},
  "y":{"datum":21.35,"type":"quantitative","scale":{"domain":[0,22],"reverse":true,"nice":false,"zero":false},"axis":null}}},
{"data":{"values":[{}]},"mark":{"type":"text","text":"3033.66  -1.44%  ▼ 44.46","align":"left","fontSize":7,"color":"#7ab04a"},
 "encoding":{"x":{"datum":30.7,"type":"quantitative","scale":{"domain":[-1.4,212.6],"nice":false,"zero":false},"axis":null},
  "y":{"datum":21.35,"type":"quantitative","scale":{"domain":[0,22],"reverse":true,"nice":false,"zero":false},"axis":null}}},
{"data":{"values":[{}]},"mark":{"type":"text","text":"涨家 189 跌家 865","align":"left","fontSize":7,"color":"#a03040"},
 "encoding":{"x":{"datum":91.69,"type":"quantitative","scale":{"domain":[-1.4,212.6],"nice":false,"zero":false},"axis":null},
  "y":{"datum":21.35,"type":"quantitative","scale":{"domain":[0,22],"reverse":true,"nice":false,"zero":false},"axis":null}}}
]},
{"width":276,"height":192,"view":{"stroke":"#cccccc"},
"layer":[
{"data":{"values":[{}]},"mark":{"type":"rule","color":"#bbbbbb","strokeDash":[3,3]},
 "encoding":{"x":{"datum":120,"type":"quantitative","scale":{"domain":[-1.75,239.2],"nice":false,"zero":false},"axis":null}}},
{"data":{"name":"is"},"mark":{"type":"bar","orient":"vertical","size":1.6},
 "encoding":{"x":{"field":"m","type":"quantitative","scale":{"domain":[-1.75,239.2],"nice":false,"zero":false},"axis":null},
  "y":{"field":"s","type":"quantitative","scale":{"domain":[3023.3,3131.8],"nice":false,"zero":false},"axis":null},"y2":{"field":"b"},
  "color":{"condition":{"test":"datum.s>datum.b","value":"#f03a2a"},"value":"#9ac860"}}},
{"data":{"name":"ia"},"mark":{"type":"line","color":"#e070a0","strokeWidth":1.2},
 "encoding":{"x":{"field":"m","type":"quantitative","scale":{"domain":[-1.75,239.2],"nice":false,"zero":false},"axis":null},
  "y":{"field":"p","type":"quantitative","scale":{"domain":[3023.3,3131.8],"nice":false,"zero":false},"axis":null}}},
{"data":{"name":"it"},"mark":{"type":"line","color":"#555555","strokeWidth":1},
 "encoding":{"x":{"field":"m","type":"quantitative","scale":{"domain":[-1.75,239.2],"nice":false,"zero":false},"axis":null},
  "y":{"field":"p","type":"quantitative","scale":{"domain":[3023.3,3131.8],"nice":false,"zero":false},"axis":null}}},
{"data":{"values":[{"p":3029},{"p":3035},{"p":3041},{"p":3047},{"p":3054},{"p":3060},{"p":3066},{"p":3072},{"p":3078},{"p":3084},{"p":3090},{"p":3097},{"p":3103},{"p":3109},{"p":3115},{"p":3121},{"p":3127}]},
 "mark":{"type":"text","align":"left","dx":3,"fontSize":8,"font":"Liberation Sans"},
 "encoding":{"x":{"datum":239.2,"type":"quantitative","scale":{"domain":[-1.75,239.2],"nice":false,"zero":false},"axis":null},
  "y":{"field":"p","type":"quantitative","scale":{"domain":[3023.3,3131.8],"nice":false,"zero":false},"axis":null},
  "text":{"field":"p","type":"nominal"},
  "color":{"condition":{"test":"datum.p>=3078","value":"#e8402a"},"value":"#8ab84a"}}}
]},
{"width":276,"height":70,"view":{"stroke":"#cccccc"},
"layer":[
{"data":{"values":[{}]},"mark":{"type":"rule","color":"#bbbbbb","strokeDash":[3,3]},
 "encoding":{"x":{"datum":120,"type":"quantitative","scale":{"domain":[-1.75,239.2],"nice":false,"zero":false},"axis":null}}},
{"data":{"name":"iv"},"mark":{"type":"bar","orient":"vertical","size":1.8},
 "encoding":{"x":{"field":"m","type":"quantitative","scale":{"domain":[-1.75,239.2],"nice":false,"zero":false},"axis":null},
  "y":{"field":"v","type":"quantitative","scale":{"domain":[-4500,523000],"nice":false,"zero":false},"axis":null},
  "color":{"condition":{"test":"datum.dir=='d'","value":"#6aaa4a"},"value":"#f03a2a"}}},
{"data":{"values":[{"v":85924},{"v":171848},{"v":257772},{"v":343696},{"v":429620},{"v":515544}]},
 "mark":{"type":"text","align":"left","dx":3,"fontSize":8,"font":"Liberation Sans","color":"#e07848"},
 "encoding":{"x":{"datum":239.2,"type":"quantitative","scale":{"domain":[-1.75,239.2],"nice":false,"zero":false},"axis":null},
  "y":{"field":"v","type":"quantitative","scale":{"domain":[-4500,523000],"nice":false,"zero":false},"axis":null},
  "text":{"field":"v","type":"nominal"}}}
]}
]}
]
}
